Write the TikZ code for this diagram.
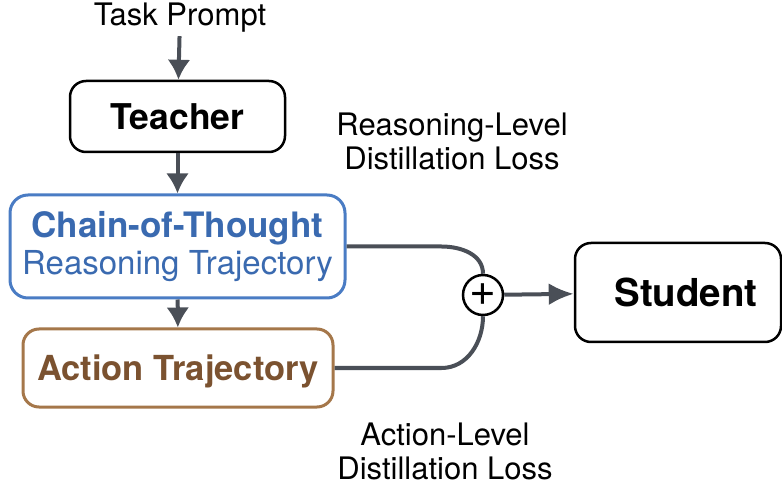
\documentclass[tikz,border=0pt]{standalone}
\usepackage{fontspec}
\setmainfont{TeX Gyre Heros}
\usetikzlibrary{arrows.meta}
\definecolor{cotblu}{HTML}{4A7CC4}
\definecolor{cottesto}{HTML}{3A6AB0}
\definecolor{actbordo}{HTML}{A5774A}
\definecolor{acttesto}{HTML}{7B5230}
\definecolor{grigio}{HTML}{4A4F57}

\begin{document}
\begin{tikzpicture}[x = 1pt, y = -1pt,
    scatola/.style = {draw, line width = 2.5pt, rounded corners = 16pt, fill = white, align = center, inner sep = 0pt},
    freccia/.style = {draw = grigio, line width = 4pt, -{Latex[length = 20pt, width = 23pt]}},
    ramo/.style = {draw = grigio, line width = 4pt},
    etichetta/.style = {align = center, font = \fontsize{31}{34}\selectfont}]
    \useasboundingbox (0,0) rectangle (782,486);
    % Nodi
    \node[etichetta] (prompt) at (180,18) {Task Prompt};
    \node[scatola, minimum width = 215pt, minimum height = 71pt, font = \fontsize{35.5}{40}\bfseries] (teacher) at (177.5,116.5) {Teacher};
    \node[scatola, draw = cotblu, line width = 3pt, rounded corners = 18pt, minimum width = 335pt, minimum height = 103pt, text = cottesto] (cot) at (177.5,246.5)
        {{\fontsize{35}{39}\selectfont\bfseries Chain-of-Thought}\\[4pt] {\fontsize{33}{39}\selectfont Reasoning Trajectory}};
    \node[scatola, text depth = 0pt, draw = actbordo, line width = 3pt, minimum width = 310pt, minimum height = 78pt, text = acttesto, font = \fontsize{34.5}{40}\bfseries] (action) at (178,368) {Action Trajectory};
    \node[scatola, minimum width = 206pt, minimum height = 99pt, font = \fontsize{38.5}{44}\bfseries] (student) at (678,292.5) {\hspace*{16pt}Student};
    \node[draw, circle, line width = 2.5pt, minimum size = 40pt, inner sep = 0pt, fill = white, font = \fontsize{46}{46}\selectfont] (plus) at (483,295) {+};
    % Etichette
    \node[etichetta] (rlabel) at (452,141) {Reasoning-Level\\Distillation Loss};
    \node[etichetta] (alabel) at (445,451) {Action-Level\\Distillation Loss};
    % Frecce
    \draw[freccia] (prompt) -- (teacher);
    \draw[freccia] (teacher) -- (cot);
    \draw[freccia] (cot) -- (action);
    \draw[ramo] (cot.east) -- ++(95,0) to[out = 0, in = 90] (plus.north);
    \draw[ramo] (action.east) -- ++(107,0) to[out = 0, in = -90] (plus.south);
    \draw[freccia, -{Latex[length = 25pt, width = 22pt]}] (plus) -- (student);
\end{tikzpicture}
\end{document}
